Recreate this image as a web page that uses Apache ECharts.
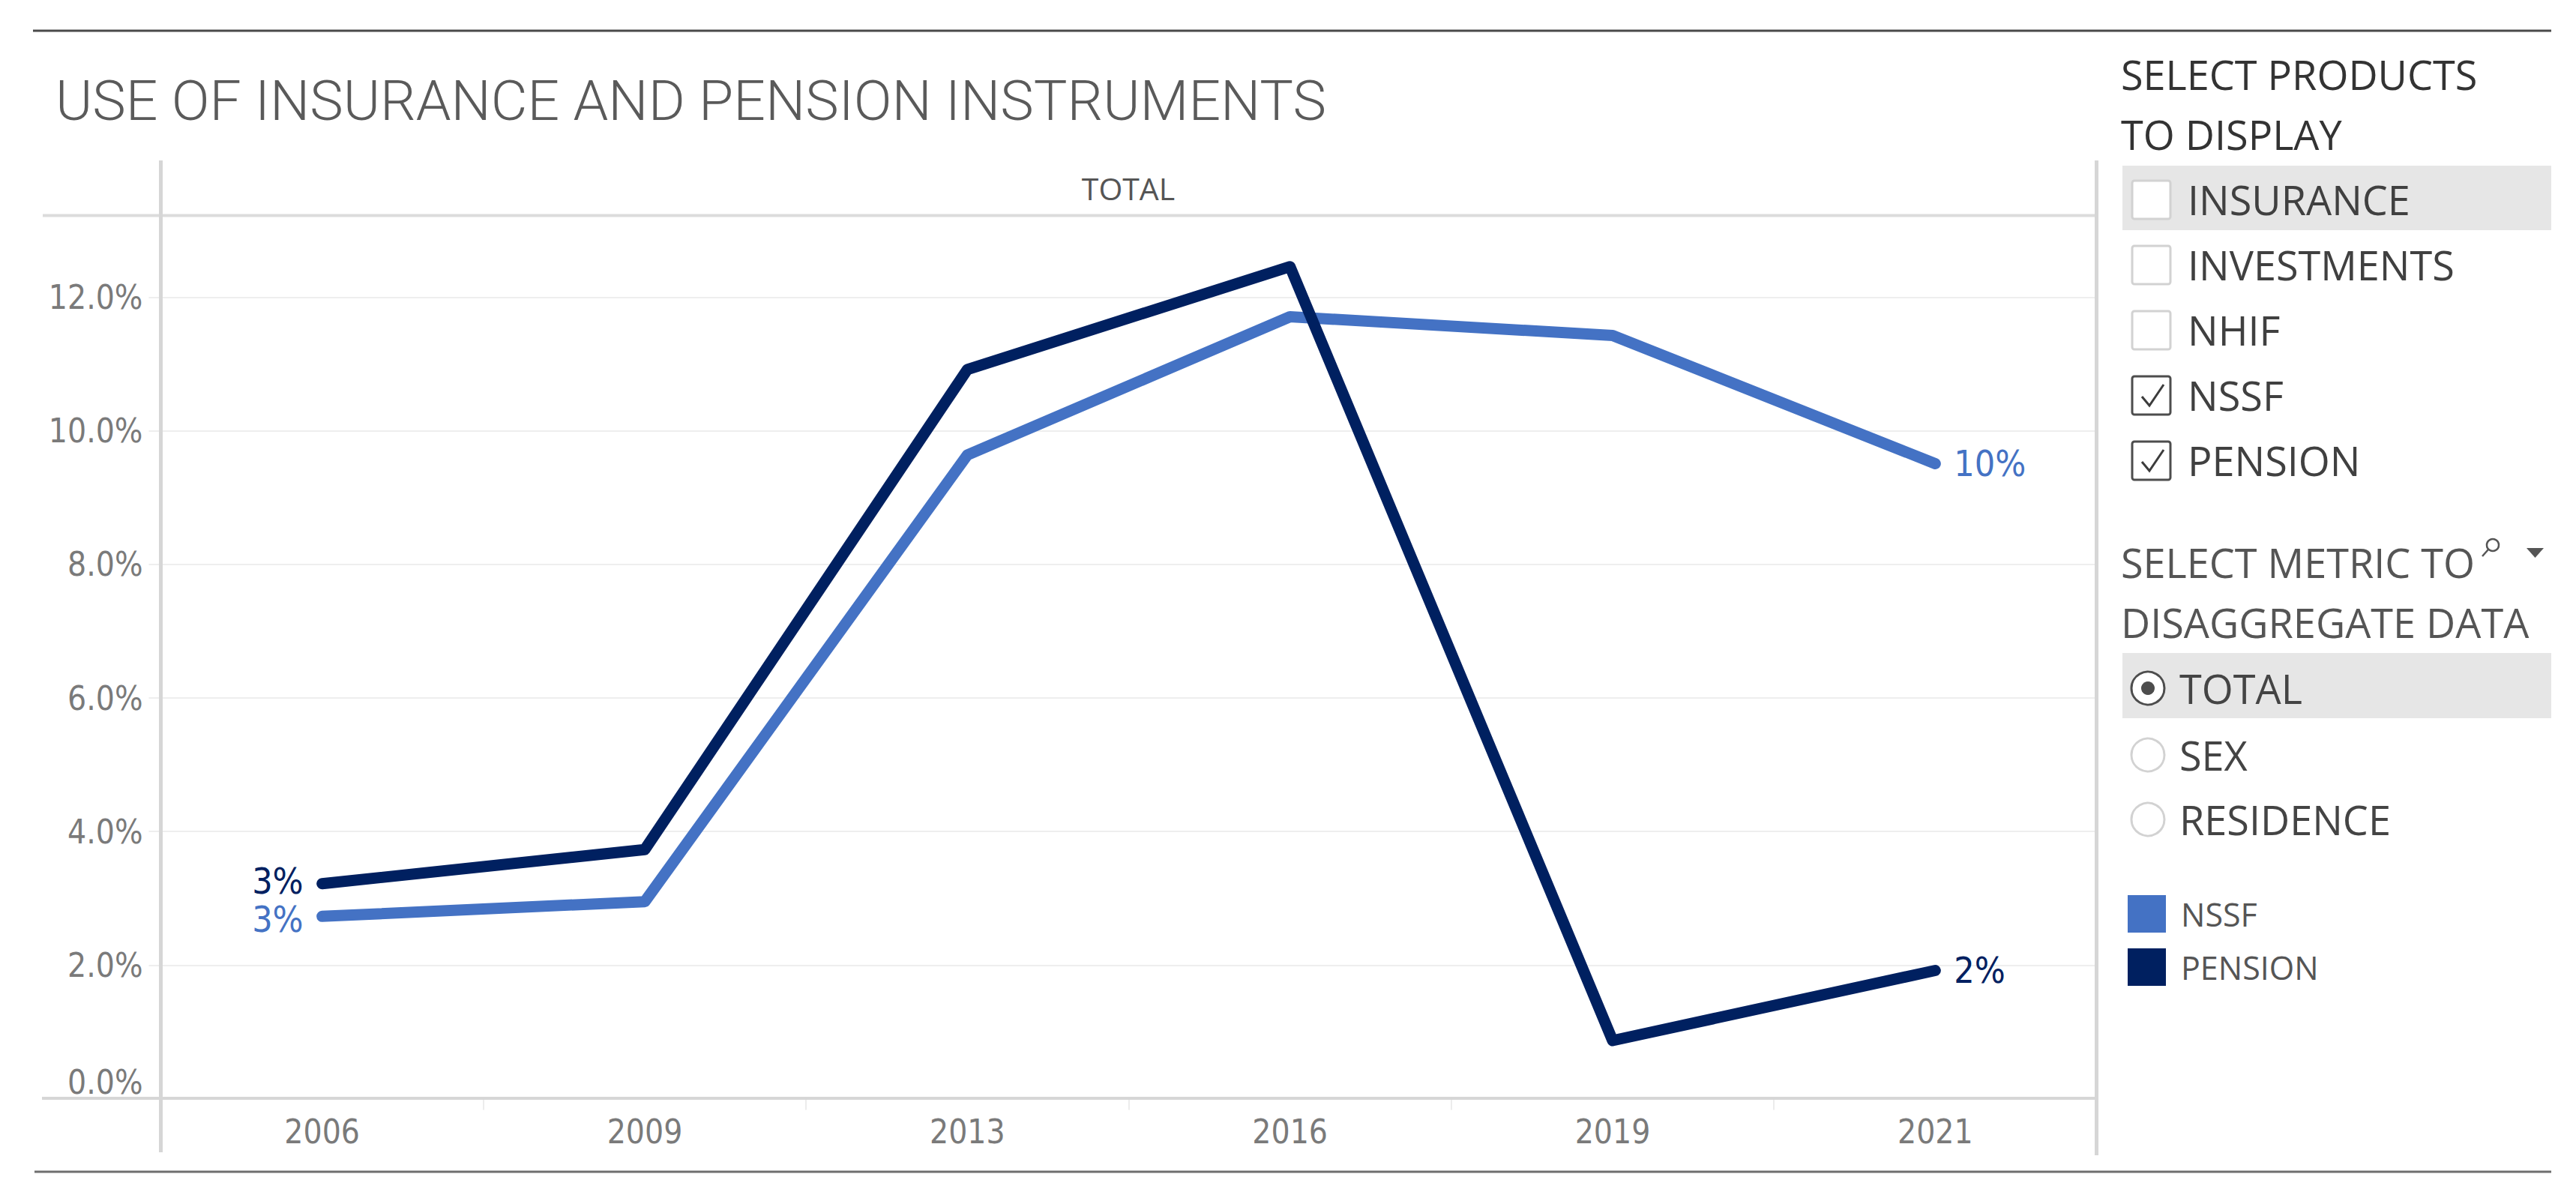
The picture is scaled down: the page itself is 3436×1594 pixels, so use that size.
<!DOCTYPE html>
<html>
<head>
<meta charset="utf-8">
<script src="https://cdn.jsdelivr.net/npm/echarts@6/dist/echarts.min.js"></script>
<style>
html,body{margin:0;padding:0;background:#ffffff;}
#chart{width:3436px;height:1594px;}
</style>
</head>
<body>
<div id="chart"></div>
<script>
// ---------- data ----------
const titleText = 'USE OF INSURANCE AND PENSION INSTRUMENTS';
const paneHeader = 'TOTAL';
const years = ['2006', '2009', '2013', '2016', '2019', '2021'];
const seriesNames = ['NSSF', 'PENSION'];
const nssfValues = [2.73, 2.95, 9.64, 11.71, 11.43, 9.51];
const pensionValues = [3.22, 3.73, 10.92, 12.46, 0.87, 1.92];
const yTicks = [0, 2, 4, 6, 8, 10, 12];
const productsHeader = ['SELECT PRODUCTS', 'TO DISPLAY'];
const products = ['INSURANCE', 'INVESTMENTS', 'NHIF', 'NSSF', 'PENSION'];
const productChecked = [false, false, false, true, true];
const metricHeader = ['SELECT METRIC TO', 'DISAGGREGATE DATA'];
const metrics = ['TOTAL', 'SEX', 'RESIDENCE'];
const metricSelected = 0;

// ---------- styles ----------
const COLORS = ['#4472C4', '#002060'];
const AXIS_FONT = "'DejaVu Sans Condensed', 'DejaVu Sans', sans-serif";
const UI_FONT = "'Open Sans', 'Noto Sans', sans-serif";
const TITLE_FONT = "Roboto, 'Open Sans', sans-serif";

const chart = echarts.init(document.getElementById('chart'), null, {renderer: 'svg'});

function buildData(vals, firstOffset) {
  return vals.map((v, i) => {
    const first = i === 0, last = i === vals.length - 1;
    return {
      value: v,
      label: {show: first || last, position: first ? 'left' : 'right', offset: first ? [0, firstOffset] : [0, 0]}
    };
  });
}

function makeSeries(name, vals, color, firstOffset) {
  return {
    name: name,
    type: 'line',
    data: buildData(vals, firstOffset),
    symbol: 'circle',
    symbolSize: 2,
    showSymbol: true,
    itemStyle: {color: color},
    lineStyle: {color: color, width: 15, cap: 'round', join: 'round'},
    label: {
      distance: 24,
      color: color,
      fontSize: 48,
      lineHeight: 48,
      fontFamily: AXIS_FONT,
      formatter: p => Math.round(p.value) + '%'
    },
    emphasis: {disabled: true},
    animation: false
  };
}

// ---------- graphics (frame + filter panel) ----------
const G = [];
function line(x1, y1, x2, y2, color, w) {
  G.push({type: 'line', silent: true, shape: {x1, y1, x2, y2}, style: {stroke: color, lineWidth: w}, z: 1});
}
function text(t, x, y, size, color, family, weight, align) {
  G.push({type: 'text', silent: true, x: x, y: y, z: 10, style: {
    text: t, fill: color, fontSize: size, fontFamily: family, fontWeight: weight || 'normal',
    align: align || 'left', verticalAlign: 'middle', textAlign: align || 'left', textVerticalAlign: 'middle'
  }});
}

// outer frame lines
line(44, 41, 3403, 41, '#4a4a4a', 3);
line(46, 1563, 3403, 1563, '#6e6e6e', 3);
// pane lines
line(57, 287.5, 2797, 287.5, '#dcdcdc', 4);
line(214.5, 214, 214.5, 1537, '#d6d6d6', 5);
line(2796.5, 214, 2796.5, 1541, '#d6d6d6', 5);
line(56, 1465, 2797, 1465, '#d6d6d6', 4);

// title and pane header
text(titleText, 74, 134, 75, '#5a5a5a', TITLE_FONT, 300);
text(paneHeader, 1505, 251, 41, '#555555', UI_FONT, 'normal', 'center');

// products filter
text(productsHeader[0], 2829, 99, 54, '#333333', UI_FONT);
text(productsHeader[1], 2829, 179, 54, '#333333', UI_FONT);
G.push({type: 'rect', silent: true, z: 0, shape: {x: 2831, y: 221, width: 572, height: 86}, style: {fill: '#e6e6e6'}});
products.forEach((p, i) => {
  const cy = 266 + i * 87;
  const checked = productChecked[i];
  G.push({type: 'rect', silent: true, z: 5, shape: {x: 2844, y: cy - 25, width: 51, height: 51, r: 3},
    style: {fill: '#ffffff', stroke: checked ? '#4d4d4d' : '#d2d2d2', lineWidth: 3}});
  if (checked) {
    G.push({type: 'polyline', silent: true, z: 6, shape: {points: [[2857, cy + 2], [2867, cy + 14], [2886, cy - 14]]},
      style: {stroke: '#3c3c3c', lineWidth: 3, fill: null}});
  }
  text(p, 2918, cy, 54, '#404040', UI_FONT);
});

// metric selector
text(metricHeader[0], 2829, 750, 54, '#555555', UI_FONT);
text(metricHeader[1], 2829, 830, 54, '#555555', UI_FONT);
G.push({type: 'circle', silent: true, z: 6, shape: {cx: 3325, cy: 727, r: 8}, style: {fill: 'none', stroke: '#555555', lineWidth: 2.5}});
G.push({type: 'line', silent: true, z: 6, shape: {x1: 3319, y1: 733, x2: 3311, y2: 742}, style: {stroke: '#555555', lineWidth: 2.5}});
G.push({type: 'polygon', silent: true, z: 6, shape: {points: [[3370, 731], [3393, 731], [3381.5, 744]]}, style: {fill: '#555555'}});
G.push({type: 'rect', silent: true, z: 0, shape: {x: 2831, y: 871, width: 572, height: 87}, style: {fill: '#e6e6e6'}});
const metricY = [918, 1007, 1093];
metrics.forEach((m, i) => {
  const cy = metricY[i];
  const sel = i === metricSelected;
  G.push({type: 'circle', silent: true, z: 5, shape: {cx: 2865, cy: cy, r: 22},
    style: {fill: '#ffffff', stroke: sel ? '#4d4d4d' : '#d2d2d2', lineWidth: 3}});
  if (sel) {
    G.push({type: 'circle', silent: true, z: 6, shape: {cx: 2865, cy: cy, r: 9}, style: {fill: '#4d4d4d'}});
  }
  text(m, 2907, cy, 54, '#444444', UI_FONT);
});

// colour legend
const legendY = [1219, 1290];
seriesNames.forEach((n, i) => {
  G.push({type: 'rect', silent: true, z: 5, shape: {x: 2838, y: legendY[i] - 25, width: 51, height: 50}, style: {fill: COLORS[i]}});
  text(n, 2909, legendY[i], 43, '#555555', UI_FONT);
});

const option = {
  backgroundColor: '#ffffff',
  animation: false,
  grid: {left: 214.5, right: 639.5, top: 288, bottom: 128.5, containLabel: false, outerBoundsMode: 'none'},
  xAxis: {
    type: 'category',
    data: years,
    boundaryGap: true,
    axisLine: {show: false},
    axisTick: {show: true, interval: 0, alignWithLabel: false, length: 15, lineStyle: {color: '#ececec', width: 2}},
    axisLabel: {margin: 22, color: '#7a7a7a', fontSize: 44, fontFamily: AXIS_FONT, interval: 0},
    splitLine: {show: false}
  },
  yAxis: {
    type: 'value',
    min: yTicks[0],
    max: 13.22,
    interval: yTicks[1] - yTicks[0],
    axisLine: {show: false},
    axisTick: {show: true, length: 16, lineStyle: {color: '#eeeeee', width: 2}},
    splitLine: {show: true, lineStyle: {color: '#eeeeee', width: 2}},
    axisLabel: {
      margin: 24, color: '#7a7a7a', fontSize: 44, fontFamily: AXIS_FONT,
      verticalAlignMinLabel: 'bottom',
      formatter: v => yTicks.indexOf(v) >= 0 ? v.toFixed(1) + '%' : ''
    }
  },
  series: [
    makeSeries(seriesNames[0], nssfValues, COLORS[0], 4),
    makeSeries(seriesNames[1], pensionValues, COLORS[1], -4)
  ],
  graphic: {elements: G}
};
chart.setOption(option);
</script>
</body>
</html>
